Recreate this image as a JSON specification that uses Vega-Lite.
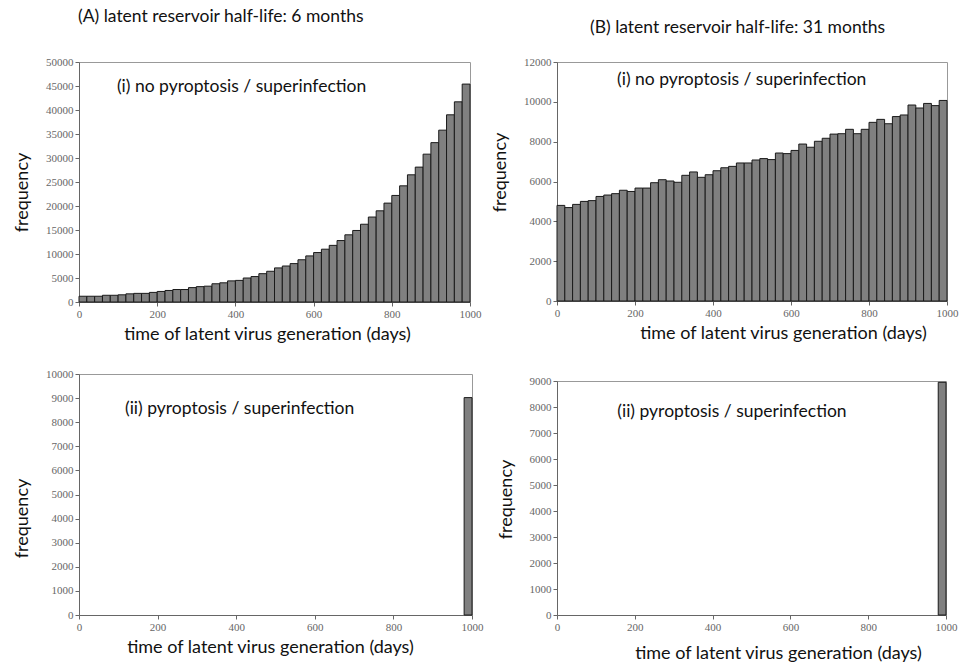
{
  "$schema": "https://vega.github.io/schema/vega-lite/v6.json",
  "background": "white",
  "padding": {"left": 13, "top": 8, "right": 0, "bottom": 0},
  "config": {
    "font": "Lato",
    "view": {"stroke": "#999999", "strokeWidth": 1},
    "axis": {
      "grid": false,
      "labelFont": "Liberation Serif",
      "labelFontSize": 11,
      "labelColor": "#666666",
      "labelOverlap": false,
      "labelFlush": false,
      "format": "d",
      "domainColor": "#666666",
      "tickColor": "#666666",
      "tickSize": 4,
      "labelPadding": 2,
      "titleFont": "Lato",
      "titleFontWeight": "normal",
      "titleColor": "#111111",
      "titleFontSize": 18
    },
    "title": {"font": "Lato", "fontWeight": "normal", "fontSize": 17.5, "color": "#111111", "anchor": "start"},
    "bar": {"fill": "#808080", "stroke": "#1a1a1a", "strokeWidth": 1}
  },
  "datasets": {
    "a1": [
      {"start": 0, "end": 20, "freq": 1200}, {"start": 20, "end": 40, "freq": 1200}, {"start": 40, "end": 60, "freq": 1200},
      {"start": 60, "end": 80, "freq": 1400}, {"start": 80, "end": 100, "freq": 1400}, {"start": 100, "end": 120, "freq": 1500},
      {"start": 120, "end": 140, "freq": 1700}, {"start": 140, "end": 160, "freq": 1800}, {"start": 160, "end": 180, "freq": 1800},
      {"start": 180, "end": 200, "freq": 2000}, {"start": 200, "end": 220, "freq": 2200}, {"start": 220, "end": 240, "freq": 2400},
      {"start": 240, "end": 260, "freq": 2600}, {"start": 260, "end": 280, "freq": 2600}, {"start": 280, "end": 300, "freq": 3000},
      {"start": 300, "end": 320, "freq": 3200}, {"start": 320, "end": 340, "freq": 3300}, {"start": 340, "end": 360, "freq": 3800},
      {"start": 360, "end": 380, "freq": 4000}, {"start": 380, "end": 400, "freq": 4400}, {"start": 400, "end": 420, "freq": 4500},
      {"start": 420, "end": 440, "freq": 5000}, {"start": 440, "end": 460, "freq": 5300}, {"start": 460, "end": 480, "freq": 5900},
      {"start": 480, "end": 500, "freq": 6400}, {"start": 500, "end": 520, "freq": 7100}, {"start": 520, "end": 540, "freq": 7500},
      {"start": 540, "end": 560, "freq": 8000}, {"start": 560, "end": 580, "freq": 8800}, {"start": 580, "end": 600, "freq": 9600},
      {"start": 600, "end": 620, "freq": 10300}, {"start": 620, "end": 640, "freq": 11000}, {"start": 640, "end": 660, "freq": 11800},
      {"start": 660, "end": 680, "freq": 12800}, {"start": 680, "end": 700, "freq": 14000}, {"start": 700, "end": 720, "freq": 14900},
      {"start": 720, "end": 740, "freq": 16200}, {"start": 740, "end": 760, "freq": 17700}, {"start": 760, "end": 780, "freq": 19000},
      {"start": 780, "end": 800, "freq": 20600}, {"start": 800, "end": 820, "freq": 22200}, {"start": 820, "end": 840, "freq": 24200},
      {"start": 840, "end": 860, "freq": 26500}, {"start": 860, "end": 880, "freq": 28100}, {"start": 880, "end": 900, "freq": 30800},
      {"start": 900, "end": 920, "freq": 33200}, {"start": 920, "end": 940, "freq": 35800}, {"start": 940, "end": 960, "freq": 39000},
      {"start": 960, "end": 980, "freq": 41700}, {"start": 980, "end": 1000, "freq": 45400}
    ],
    "b1": [
      {"start": 0, "end": 20, "freq": 4800}, {"start": 20, "end": 40, "freq": 4690}, {"start": 40, "end": 60, "freq": 4850},
      {"start": 60, "end": 80, "freq": 5000}, {"start": 80, "end": 100, "freq": 5040}, {"start": 100, "end": 120, "freq": 5250},
      {"start": 120, "end": 140, "freq": 5320}, {"start": 140, "end": 160, "freq": 5390}, {"start": 160, "end": 180, "freq": 5560},
      {"start": 180, "end": 200, "freq": 5500}, {"start": 200, "end": 220, "freq": 5670}, {"start": 220, "end": 240, "freq": 5670},
      {"start": 240, "end": 260, "freq": 5940}, {"start": 260, "end": 280, "freq": 6090}, {"start": 280, "end": 300, "freq": 6025},
      {"start": 300, "end": 320, "freq": 5960}, {"start": 320, "end": 340, "freq": 6310}, {"start": 340, "end": 360, "freq": 6480},
      {"start": 360, "end": 380, "freq": 6210}, {"start": 380, "end": 400, "freq": 6340}, {"start": 400, "end": 420, "freq": 6540},
      {"start": 420, "end": 440, "freq": 6690}, {"start": 440, "end": 460, "freq": 6760}, {"start": 460, "end": 480, "freq": 6930},
      {"start": 480, "end": 500, "freq": 6930}, {"start": 500, "end": 520, "freq": 7080}, {"start": 520, "end": 540, "freq": 7150},
      {"start": 540, "end": 560, "freq": 7100}, {"start": 560, "end": 580, "freq": 7430}, {"start": 580, "end": 600, "freq": 7400},
      {"start": 600, "end": 620, "freq": 7560}, {"start": 620, "end": 640, "freq": 7880}, {"start": 640, "end": 660, "freq": 7720},
      {"start": 660, "end": 680, "freq": 8020}, {"start": 680, "end": 700, "freq": 8170}, {"start": 700, "end": 720, "freq": 8380},
      {"start": 720, "end": 740, "freq": 8400}, {"start": 740, "end": 760, "freq": 8620}, {"start": 760, "end": 780, "freq": 8400},
      {"start": 780, "end": 800, "freq": 8620}, {"start": 800, "end": 820, "freq": 8970}, {"start": 820, "end": 840, "freq": 9120},
      {"start": 840, "end": 860, "freq": 8900}, {"start": 860, "end": 880, "freq": 9260}, {"start": 880, "end": 900, "freq": 9340},
      {"start": 900, "end": 920, "freq": 9840}, {"start": 920, "end": 940, "freq": 9690}, {"start": 940, "end": 960, "freq": 9920},
      {"start": 960, "end": 980, "freq": 9810}, {"start": 980, "end": 1000, "freq": 10070}
    ],
    "a2": [{"start": 980, "end": 1000, "freq": 9020}],
    "b2": [{"start": 980, "end": 1000, "freq": 8950}]
  },
  "spacing": 7,
  "hconcat": [
    {
      "title": {"text": "(A) latent reservoir half-life: 6 months", "offset": 30, "dx": 65},
      "spacing": 23,
      "vconcat": [
        {
          "width": 391, "height": 240,
          "encoding": {
            "x": {"type": "quantitative", "scale": {"domain": [0, 1000], "nice": false}, "axis": {"values": [0, 200, 400, 600, 800, 1000], "labelOverlap": false, "labelFlush": false, "title": "time of latent virus generation (days)", "titlePadding": 6, "titleX": 188}},
            "y": {"type": "quantitative", "scale": {"domain": [0, 50000], "nice": false}, "axis": {"values": [0, 5000, 10000, 15000, 20000, 25000, 30000, 35000, 40000, 45000, 50000], "labelOverlap": false, "title": "frequency", "titlePadding": 14, "titleY": 130}}
          },
          "layer": [
            {
              "data": {"name": "a1"},
              "mark": "bar",
              "encoding": {
                "x": {"field": "start"},
                "x2": {"field": "end"},
                "y": {"field": "freq"},
                "y2": {"datum": 0}
              }
            },
            {
              "data": {"values": [{"label": "(i) no pyroptosis / superinfection"}]},
              "mark": {"type": "text", "align": "left", "baseline": "middle", "fontSize": 17.5, "font": "Lato", "color": "#111111"},
              "encoding": {"x": {"datum": 97}, "y": {"datum": 44800}, "text": {"field": "label"}}
            }
          ]
        },
        {
          "width": 393, "height": 241,
          "encoding": {
            "x": {"type": "quantitative", "scale": {"domain": [0, 1000], "nice": false}, "axis": {"values": [0, 200, 400, 600, 800, 1000], "labelOverlap": false, "labelFlush": false, "title": "time of latent virus generation (days)", "titlePadding": 6, "titleX": 191}},
            "y": {"type": "quantitative", "scale": {"domain": [0, 10000], "nice": false}, "axis": {"values": [0, 1000, 2000, 3000, 4000, 5000, 6000, 7000, 8000, 9000, 10000], "labelOverlap": false, "title": "frequency", "titlePadding": 14, "titleY": 144}}
          },
          "layer": [
            {
              "data": {"name": "a2"},
              "mark": "bar",
              "encoding": {
                "x": {"field": "start"},
                "x2": {"field": "end"},
                "y": {"field": "freq"},
                "y2": {"datum": 0}
              }
            },
            {
              "data": {"values": [{"label": "(ii) pyroptosis  / superinfection"}]},
              "mark": {"type": "text", "align": "left", "baseline": "middle", "fontSize": 17.5, "font": "Lato", "color": "#111111"},
              "encoding": {"x": {"datum": 117}, "y": {"datum": 8550}, "text": {"field": "label"}}
            }
          ]
        }
      ]
    },
    {
      "title": {"text": "(B) latent reservoir half-life: 31 months", "offset": 19, "dx": 99},
      "spacing": 31,
      "vconcat": [
        {
          "width": 390, "height": 239,
          "encoding": {
            "x": {"type": "quantitative", "scale": {"domain": [0, 1000], "nice": false}, "axis": {"values": [0, 200, 400, 600, 800, 1000], "labelOverlap": false, "labelFlush": false, "title": "time of latent virus generation (days)", "titlePadding": 6, "titleX": 226}},
            "y": {"type": "quantitative", "scale": {"domain": [0, 12000], "nice": false}, "axis": {"values": [0, 2000, 4000, 6000, 8000, 10000, 12000], "labelOverlap": false, "title": "frequency", "titlePadding": 14, "titleY": 110}}
          },
          "layer": [
            {
              "data": {"name": "b1"},
              "mark": "bar",
              "encoding": {
                "x": {"field": "start"},
                "x2": {"field": "end"},
                "y": {"field": "freq"},
                "y2": {"datum": 0}
              }
            },
            {
              "data": {"values": [{"label": "(i) no pyroptosis  / superinfection"}]},
              "mark": {"type": "text", "align": "left", "baseline": "middle", "fontSize": 17.5, "font": "Lato", "color": "#111111"},
              "encoding": {"x": {"datum": 154}, "y": {"datum": 11100}, "text": {"field": "label"}}
            }
          ]
        },
        {
          "width": 389, "height": 234,
          "encoding": {
            "x": {"type": "quantitative", "scale": {"domain": [0, 1000], "nice": false}, "axis": {"values": [0, 200, 400, 600, 800, 1000], "labelOverlap": false, "labelFlush": false, "title": "time of latent virus generation (days)", "titlePadding": 12, "titleX": 221}},
            "y": {"type": "quantitative", "scale": {"domain": [0, 9000], "nice": false}, "axis": {"values": [0, 1000, 2000, 3000, 4000, 5000, 6000, 7000, 8000, 9000], "labelOverlap": false, "title": "frequency", "titlePadding": 14, "titleY": 118}}
          },
          "layer": [
            {
              "data": {"name": "b2"},
              "mark": "bar",
              "encoding": {
                "x": {"field": "start"},
                "x2": {"field": "end"},
                "y": {"field": "freq"},
                "y2": {"datum": 0}
              }
            },
            {
              "data": {"values": [{"label": "(ii) pyroptosis  / superinfection"}]},
              "mark": {"type": "text", "align": "left", "baseline": "middle", "fontSize": 17.5, "font": "Lato", "color": "#111111"},
              "encoding": {"x": {"datum": 155}, "y": {"datum": 7800}, "text": {"field": "label"}}
            }
          ]
        }
      ]
    }
  ]
}
